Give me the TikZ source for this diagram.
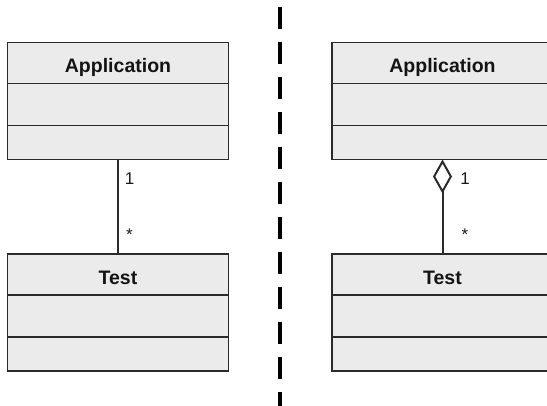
\documentclass[tikz,border=0pt]{standalone}
\usepackage{fontspec}
\setmainfont{Liberation Sans}
\usetikzlibrary{arrows.meta}
\definecolor{classfill}{HTML}{EBEBEB}
\definecolor{classline}{HTML}{2A2A2A}
\begin{document}
\begin{tikzpicture}[x=1pt,y=-1pt,
  classbox/.style={draw=classline, fill=classfill, line width=1.8pt,
    minimum width=221pt, minimum height=117pt, inner sep=0pt, outer sep=0pt},
  classname/.style={font=\fontsize{19.5}{22}\selectfont\bfseries, text=black!92,
    anchor=base, inner sep=0pt},
  mult/.style={font=\fontsize{17}{19}\selectfont, text=black!90,
    anchor=base, inner sep=0pt},
  divider/.style={draw=classline, line width=1.8pt},
  link/.style={draw=classline, line width=2pt},
  separator/.style={draw=black, line width=3.2pt, dash pattern=on 22.6pt off 12.4pt}
]
\clip (0,0) rectangle (547,405);

% class boxes
\node[classbox] (app1)  at (118,101)   {};
\node[classbox] (test1) at (118,312.8) {};
\node[classbox] (app2)  at (442.5,101)   {};
\node[classbox] (test2) at (442.5,312.8) {};

% compartment dividers
\foreach \c in {app1,test1,app2,test2}{
  \draw[divider] ([yshift=-41pt]\c.north west) -- ([yshift=-41pt]\c.north east);
  \draw[divider] ([yshift=-83pt]\c.north west) -- ([yshift=-83pt]\c.north east);
}

% class names
\node[classname] (app1name)  at (118,72.3) {Application};
\node[classname] (test1name) at (118,284)  {Test};
\node[classname] (app2name)  at (442.5,72.3) {Application};
\node[classname] (test2name) at (442.5,284)  {Test};

% plain association
\draw[link] (app1.south) -- (test1.north);
\node[mult] (one1)  at (129.5,184)   {1};
\node[mult] (many1) at (129.5,240.5) {*};

% aggregation
\draw[link, {Diamond[open,length=34pt,width=19pt]}-] (app2.south) -- (test2.north);
\node[mult] (one2)  at (465,184)   {1};
\node[mult] (many2) at (465,240.5) {*};

% separator between the two variants
\coordinate (septop) at (280,6.7);
\coordinate (sepbot) at (280,425);
\draw[separator] (septop) -- (sepbot);
\end{tikzpicture}
\end{document}
